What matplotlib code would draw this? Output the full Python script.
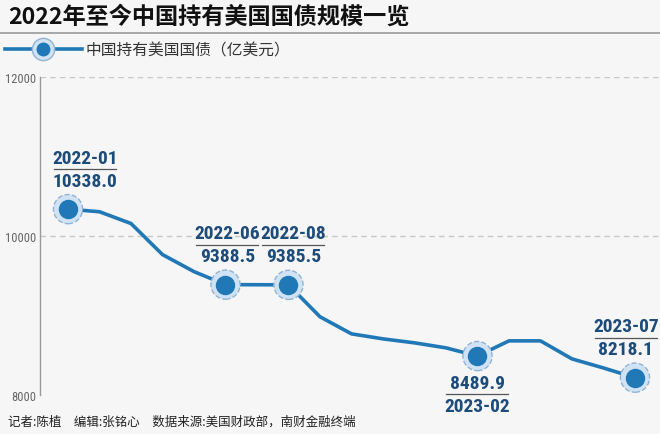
import matplotlib.pyplot as plt
from matplotlib.lines import Line2D
from matplotlib.legend_handler import HandlerTuple
from matplotlib.transforms import offset_copy

plt.rcParams['font.family'] = ['Noto Sans CJK SC', 'DejaVu Sans']

# monthly holdings, 100 million USD
months = ['2022-01', '2022-02', '2022-03', '2022-04', '2022-05', '2022-06',
          '2022-07', '2022-08', '2022-09', '2022-10', '2022-11', '2022-12',
          '2023-01', '2023-02', '2023-03', '2023-04', '2023-05', '2023-06',
          '2023-07']
holdings = [10338.0, 10305, 10157, 9766, 9552, 9388.5,
            9387, 9385.5, 8984, 8769, 8706, 8656,
            8593, 8489.9, 8681, 8681, 8454, 8340,
            8218.1]

# highlighted months
key_idx = [0, 5, 7, 13, 18]
key_above = [True, True, True, False, True]
key_dx = [17, 2, 5, 0, -9]   # label shift in pixels

yticks = [8000, 10000, 12000]

title = '2022年至今中国持有美国国债规模一览'
series_name = '中国持有美国国债（亿美元）'
footer = '记者:陈植\u3000编辑:张铭心\u3000数据来源:美国财政部，南财金融终端'

bg = '#f6f6f6'
line_color = '#2178b6'
halo_color = '#d0e3f4'
label_color = '#1d4b7a'
narrow = ['Roboto Condensed', 'Liberation Sans']

W, H = 660, 435
fig = plt.figure(figsize=(W / 100, H / 100), dpi=100, facecolor=bg)
ax = fig.add_axes([40 / W, 39 / H, 620 / W, 318 / H])
ax.set_facecolor('none')

x = list(range(len(months)))
ax.set_xlim(-0.889, 18.794)
ax.set_ylim(8000, 12000)

# dashed grid lines
for v in [10000, 12000]:
    ax.axhline(v, color='#c8c8c8', lw=1, ls=(0, (4, 3)), zorder=0)

ax.plot(x, holdings, color=line_color, lw=2.6, solid_joinstyle='round',
        solid_capstyle='round', zorder=2, clip_on=False)

kx = [x[i] for i in key_idx]
ky = [holdings[i] for i in key_idx]
halo = ax.scatter(kx, ky, s=21 ** 2, facecolor=halo_color, edgecolor='#93b3d4',
                  linewidths=1, linestyles='--', zorder=3, clip_on=False)
dots = ax.scatter(kx, ky, s=14 ** 2, color=line_color, linewidths=0,
                  zorder=4, clip_on=False)

# two-line labels with a rule in between
span = ax.get_xlim()[1] - ax.get_xlim()[0]
hw = 31 * span / 620
for i, up, dx in zip(key_idx, key_above, key_dx):
    xi, yi = x[i], holdings[i]
    val = f'{holdings[i]:.1f}'
    if up:
        off = 40
        top, bottom = months[i], val
    else:
        off = -38
        top, bottom = val, months[i]
    for txt, dy in [(top, off + 11.5), (bottom, off - 11.5)]:
        ax.annotate(txt, (xi, yi), xytext=(dx, dy), textcoords='offset pixels',
                    ha='center', va='center', fontsize=14, fontweight='bold',
                    color=label_color, family=narrow, zorder=5)
    tr = offset_copy(ax.transData, fig=fig, x=dx, y=off, units='dots')
    ax.plot([xi - hw, xi + hw], [yi, yi], transform=tr, color='#555555',
            lw=0.9, clip_on=False)

ax.set_xticks([])
ax.set_yticks(yticks)
ax.set_yticklabels([str(v) for v in yticks])
ax.tick_params(axis='y', length=0, pad=2.5, labelsize=9, labelcolor='#666666')
for lab in ax.get_yticklabels():
    lab.set_family(narrow)
for s in ['top', 'right', 'bottom']:
    ax.spines[s].set_visible(False)
ax.spines['left'].set_color('#9a9a9a')
ax.spines['left'].set_linewidth(1)

# title and rule
fig.text(8 / W, 1 - 17 / H, title, fontsize=16.7, fontweight='bold',
         ha='left', va='center', color='#111111')
fig.add_artist(Line2D([0, 1], [1 - 34 / H, 1 - 34 / H], transform=fig.transFigure,
                      color='#9a9a9a', lw=1.2))

# legend: line with the halo marker on top
leg_line = Line2D([], [], color=line_color, lw=2.6)
leg_halo = Line2D([], [], ls='', marker='o', ms=16, mfc=halo_color, mec='#93b3d4', mew=1)
leg_dot = Line2D([], [], ls='', marker='o', ms=10, mfc=line_color, mew=0)
fig.legend(handles=[(leg_line, leg_halo, leg_dot)], labels=[series_name],
           handler_map={tuple: HandlerTuple(ndivide=1)},
           loc='center left', bbox_to_anchor=(5 / W, 1 - 51 / H),
           frameon=False, handlelength=4.9, handletextpad=0.25,
           borderpad=0, borderaxespad=0, fontsize=11.3, labelcolor='#333333')

fig.text(8 / W, 1 - 422 / H, footer, fontsize=9, ha='left', va='center',
         color='#222222')

plt.savefig('out.png', dpi=100, facecolor=fig.get_facecolor())
